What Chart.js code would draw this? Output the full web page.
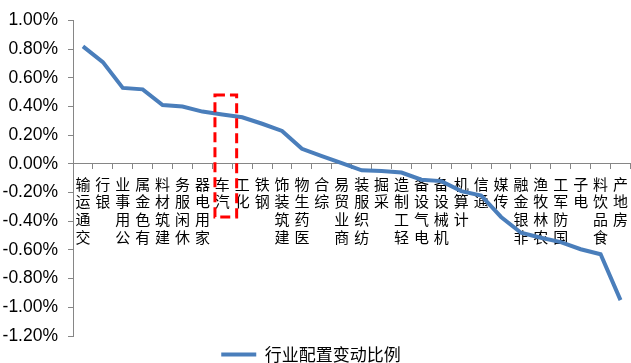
<!DOCTYPE html>
<html>
<head>
<meta charset="utf-8">
<script src="https://cdn.jsdelivr.net/npm/chart.js@4/dist/chart.umd.min.js"></script>
<style>
  html, body { margin: 0; padding: 0; background: #ffffff; overflow: hidden; }
  #wrap { position: relative; width: 646px; height: 373px; margin-left: -12px; }
</style>
</head>
<body>
<div id="wrap"><canvas id="chart"></canvas></div>
<script>
// Industry order (largest increase to largest decrease)
const industries = [
  '交通运输', '银行', '公用事业', '有色金属', '建筑材料', '休闲服务', '家用电器',
  '汽车', '化工', '钢铁', '建筑装饰', '医药生物', '综合', '商业贸易', '纺织服装',
  '采掘', '轻工制造', '电气设备', '机械设备', '计算机', '通信', '传媒', '非银金融',
  '农林牧渔', '国防军工', '电子', '食品饮料', '房地产'
];

// Change in allocation weight, in percent
const allocationChange = [
  0.82, 0.71, 0.53, 0.52, 0.41, 0.40, 0.365,
  0.345, 0.325, 0.28, 0.23, 0.105, 0.055, 0.005, -0.045,
  -0.05, -0.06, -0.11, -0.12, -0.19, -0.22, -0.37, -0.48,
  -0.515, -0.545, -0.595, -0.63, -0.95
];

const seriesName = '行业配置变动比例';

// Y axis range and step, in percent
const yMin = -1.2;
const yMax = 1.0;
const yStep = 0.2;

// Highlighted industry and the vertical span of its marker box, in percent
const highlightIndustry = '汽车';
const highlightSpan = [0.48, -0.37];

const axisGray = '#868686';
const lineBlue = '#4A7EBB';

// Dashed red box around the highlighted industry
const highlightBox = {
  id: 'highlightBox',
  afterDatasetsDraw(chart) {
    const xs = chart.scales.x;
    const ys = chart.scales.y;
    const i = industries.indexOf(highlightIndustry);
    const cx = xs.getPixelForValue(i);
    const w = xs.getPixelForValue(1) - xs.getPixelForValue(0);
    const left = cx - 0.37 * w;
    const right = cx + 0.72 * w;
    const top = ys.getPixelForValue(highlightSpan[0]);
    const bottom = ys.getPixelForValue(highlightSpan[1]);
    const ctx = chart.ctx;
    ctx.save();
    ctx.strokeStyle = '#FF0000';
    ctx.lineWidth = 3;
    ctx.setLineDash([10, 5]);
    ctx.strokeRect(left, top, right - left, bottom - top);
    ctx.restore();
  }
};

new Chart(document.getElementById('chart'), {
  type: 'line',
  data: {
    labels: industries,
    datasets: [{
      label: seriesName,
      data: allocationChange,
      borderColor: lineBlue,
      backgroundColor: lineBlue,
      borderWidth: 4,
      pointRadius: 0,
      pointHoverRadius: 0,
      pointStyle: 'line',
      tension: 0,
      fill: false
    }]
  },
  options: {
    responsive: true,
    maintainAspectRatio: false,
    animation: false,
    events: [],
    layout: { padding: { top: 10, right: 0, bottom: 0, left: 0 } },
    plugins: {
      tooltip: { enabled: false },
      legend: {
        position: 'bottom',
        labels: {
          usePointStyle: true,
          pointStyleWidth: 35,
          color: '#000000',
          padding: 10,
          font: { family: '"Noto Sans CJK SC", sans-serif', size: 17 }
        }
      }
    },
    scales: {
      x: {
        type: 'category',
        position: { y: 0 },
        offset: true,
        grid: {
          offset: true,
          drawOnChartArea: false,
          drawTicks: true,
          tickLength: 5,
          color: axisGray
        },
        border: { color: axisGray, width: 1 },
        ticks: {
          autoSkip: false,
          maxRotation: 0,
          minRotation: 0,
          padding: 6,
          color: '#000000',
          font: { family: '"Noto Sans CJK SC", sans-serif', size: 15, lineHeight: 1.19 },
          // Characters stacked upright, reading upward from the bottom
          callback: (value, index) => industries[index].split('').reverse()
        }
      },
      y: {
        min: yMin,
        max: yMax,
        afterFit(scale) { scale.width = 85; },
        grid: {
          drawOnChartArea: false,
          drawTicks: true,
          tickLength: 5,
          color: axisGray
        },
        border: { color: axisGray, width: 1 },
        ticks: {
          stepSize: yStep,
          padding: 10,
          color: '#000000',
          font: { family: '"Liberation Sans", Arial, sans-serif', size: 17.5 },
          callback: (v) => (Math.abs(v) < 1e-9 ? 0 : v).toFixed(2) + '%'
        }
      }
    }
  },
  plugins: [highlightBox]
});
</script>
</body>
</html>
